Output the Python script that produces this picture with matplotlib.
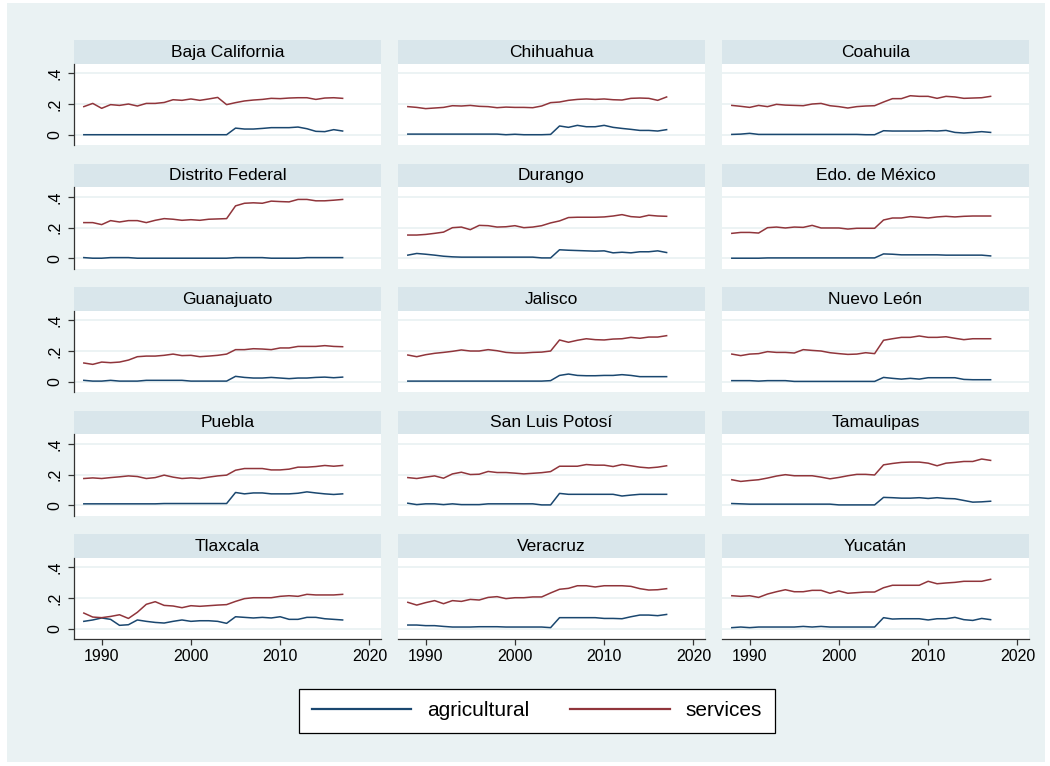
import numpy as np
import matplotlib
matplotlib.use("Agg")
import matplotlib.pyplot as plt
from matplotlib.patches import Rectangle

plt.rcParams["font.family"] = ["Liberation Sans", "DejaVu Sans"]

years = np.arange(1988, 2018)

states = ["Baja California", "Chihuahua", "Coahuila",
          "Distrito Federal", "Durango", "Edo. de México",
          "Guanajuato", "Jalisco", "Nuevo León",
          "Puebla", "San Luis Potosí", "Tamaulipas",
          "Tlaxcala", "Veracruz", "Yucatán"]

# employment shares by sector, 1988-2017
services = {
    "Baja California": [0.183, 0.204, 0.172, 0.196, 0.191, 0.200, 0.187, 0.204, 0.204, 0.210, 0.228, 0.224, 0.233, 0.224, 0.233,
                        0.243, 0.196, 0.209, 0.220, 0.226, 0.230, 0.237, 0.235, 0.239, 0.241, 0.241, 0.230, 0.239, 0.241, 0.237],
    "Chihuahua": [0.183, 0.178, 0.170, 0.174, 0.178, 0.189, 0.187, 0.191, 0.185, 0.183, 0.176, 0.180, 0.178, 0.178, 0.176,
                  0.187, 0.209, 0.213, 0.224, 0.230, 0.233, 0.230, 0.233, 0.228, 0.226, 0.237, 0.239, 0.237, 0.224, 0.246],
    "Coahuila": [0.191, 0.185, 0.178, 0.191, 0.183, 0.198, 0.193, 0.191, 0.189, 0.200, 0.204, 0.189, 0.183, 0.174, 0.183,
                 0.187, 0.189, 0.213, 0.235, 0.235, 0.254, 0.250, 0.250, 0.237, 0.250, 0.246, 0.237, 0.239, 0.241, 0.250],
    "Distrito Federal": [0.232, 0.232, 0.219, 0.245, 0.236, 0.245, 0.245, 0.232, 0.247, 0.258, 0.254, 0.247, 0.251, 0.247, 0.254,
                         0.256, 0.258, 0.341, 0.358, 0.361, 0.358, 0.372, 0.369, 0.367, 0.383, 0.383, 0.374, 0.374, 0.378, 0.383],
    "Durango": [0.151, 0.151, 0.155, 0.162, 0.170, 0.199, 0.203, 0.186, 0.214, 0.212, 0.203, 0.205, 0.212, 0.199, 0.203,
                0.212, 0.230, 0.243, 0.265, 0.267, 0.267, 0.267, 0.269, 0.275, 0.284, 0.271, 0.267, 0.280, 0.275, 0.273],
    "Edo. de México": [0.162, 0.168, 0.168, 0.164, 0.199, 0.203, 0.197, 0.203, 0.201, 0.214, 0.197, 0.197, 0.197, 0.190, 0.195,
                       0.195, 0.195, 0.249, 0.262, 0.262, 0.271, 0.267, 0.262, 0.269, 0.273, 0.269, 0.273, 0.275, 0.275, 0.275],
    "Guanajuato": [0.122, 0.113, 0.128, 0.124, 0.128, 0.141, 0.163, 0.167, 0.167, 0.172, 0.180, 0.170, 0.172, 0.163, 0.167,
                   0.172, 0.180, 0.209, 0.209, 0.215, 0.213, 0.209, 0.220, 0.220, 0.230, 0.230, 0.230, 0.235, 0.230, 0.228],
    "Jalisco": [0.174, 0.163, 0.176, 0.185, 0.191, 0.198, 0.207, 0.200, 0.200, 0.209, 0.202, 0.191, 0.187, 0.187, 0.191,
                0.193, 0.200, 0.272, 0.257, 0.270, 0.280, 0.274, 0.272, 0.278, 0.280, 0.289, 0.283, 0.291, 0.291, 0.300],
    "Nuevo León": [0.180, 0.170, 0.180, 0.183, 0.196, 0.191, 0.191, 0.187, 0.209, 0.204, 0.200, 0.189, 0.183, 0.178, 0.180,
                   0.189, 0.183, 0.270, 0.280, 0.289, 0.289, 0.298, 0.289, 0.289, 0.293, 0.283, 0.274, 0.280, 0.280, 0.280],
    "Puebla": [0.174, 0.178, 0.174, 0.180, 0.185, 0.191, 0.187, 0.174, 0.180, 0.196, 0.183, 0.174, 0.178, 0.174, 0.183,
               0.191, 0.196, 0.228, 0.239, 0.239, 0.239, 0.230, 0.230, 0.235, 0.248, 0.248, 0.252, 0.259, 0.254, 0.259],
    "San Luis Potosí": [0.180, 0.174, 0.183, 0.191, 0.176, 0.204, 0.215, 0.200, 0.202, 0.220, 0.213, 0.213, 0.209, 0.204, 0.208,
                        0.212, 0.219, 0.254, 0.254, 0.254, 0.265, 0.261, 0.261, 0.252, 0.265, 0.257, 0.248, 0.243, 0.248, 0.257],
    "Tamaulipas": [0.166, 0.155, 0.161, 0.166, 0.177, 0.190, 0.199, 0.192, 0.192, 0.192, 0.183, 0.172, 0.181, 0.192, 0.201,
                   0.201, 0.197, 0.263, 0.272, 0.279, 0.281, 0.281, 0.274, 0.257, 0.274, 0.279, 0.285, 0.285, 0.301, 0.292],
    "Tlaxcala": [0.102, 0.076, 0.072, 0.080, 0.091, 0.067, 0.107, 0.159, 0.176, 0.152, 0.148, 0.137, 0.150, 0.146, 0.150,
                 0.154, 0.157, 0.178, 0.196, 0.202, 0.202, 0.202, 0.211, 0.215, 0.211, 0.224, 0.220, 0.220, 0.220, 0.224],
    "Veracruz": [0.172, 0.154, 0.170, 0.183, 0.163, 0.183, 0.178, 0.191, 0.187, 0.204, 0.209, 0.196, 0.202, 0.202, 0.207,
                 0.207, 0.233, 0.257, 0.263, 0.280, 0.280, 0.272, 0.280, 0.280, 0.280, 0.276, 0.261, 0.252, 0.254, 0.261],
    "Yucatán": [0.215, 0.211, 0.215, 0.204, 0.226, 0.241, 0.254, 0.241, 0.241, 0.250, 0.250, 0.231, 0.246, 0.231, 0.235,
                0.239, 0.239, 0.267, 0.283, 0.283, 0.283, 0.283, 0.309, 0.293, 0.298, 0.302, 0.309, 0.309, 0.309, 0.322],
}

agricultural = {
    "Baja California": [0.0, 0.0, 0.0, 0.0, 0.0, 0.0, 0.0, 0.0, 0.0, 0.0, 0.0, 0.0, 0.0, 0.0, 0.0,
                        0.0, 0.0, 0.043, 0.037, 0.037, 0.041, 0.046, 0.046, 0.046, 0.050, 0.039, 0.022, 0.020, 0.033, 0.024],
    "Chihuahua": [0.004, 0.004, 0.004, 0.004, 0.004, 0.004, 0.004, 0.004, 0.004, 0.004, 0.004, 0.0, 0.003, 0.0, 0.0,
                  0.0, 0.002, 0.057, 0.048, 0.061, 0.052, 0.052, 0.061, 0.048, 0.041, 0.035, 0.028, 0.028, 0.024, 0.033],
    "Coahuila": [0.002, 0.004, 0.009, 0.002, 0.002, 0.002, 0.002, 0.002, 0.002, 0.002, 0.002, 0.002, 0.002, 0.002, 0.002,
                 0.0, 0.0, 0.026, 0.024, 0.024, 0.024, 0.024, 0.026, 0.024, 0.028, 0.015, 0.011, 0.015, 0.020, 0.015],
    "Distrito Federal": [0.004, 0.0, 0.0, 0.004, 0.004, 0.004, 0.0, 0.0, 0.0, 0.0, 0.0, 0.0, 0.0, 0.0, 0.0,
                         0.0, 0.0, 0.004, 0.004, 0.004, 0.004, 0.0, 0.0, 0.0, 0.0, 0.004, 0.004, 0.004, 0.004, 0.004],
    "Durango": [0.020, 0.031, 0.026, 0.020, 0.013, 0.009, 0.007, 0.007, 0.007, 0.007, 0.007, 0.007, 0.007, 0.007, 0.007,
                0.002, 0.002, 0.055, 0.052, 0.050, 0.048, 0.046, 0.048, 0.035, 0.039, 0.035, 0.042, 0.042, 0.048, 0.037],
    "Edo. de México": [0.0, 0.0, 0.0, 0.0, 0.002, 0.002, 0.002, 0.002, 0.002, 0.002, 0.002, 0.002, 0.002, 0.002, 0.002,
                       0.002, 0.002, 0.028, 0.026, 0.022, 0.022, 0.022, 0.022, 0.022, 0.020, 0.020, 0.020, 0.020, 0.020, 0.015],
    "Guanajuato": [0.009, 0.004, 0.004, 0.009, 0.004, 0.004, 0.004, 0.009, 0.009, 0.009, 0.009, 0.009, 0.004, 0.004, 0.004,
                   0.004, 0.004, 0.035, 0.028, 0.024, 0.024, 0.028, 0.024, 0.020, 0.024, 0.024, 0.028, 0.030, 0.026, 0.030],
    "Jalisco": [0.004, 0.004, 0.004, 0.004, 0.004, 0.004, 0.004, 0.004, 0.004, 0.004, 0.004, 0.004, 0.004, 0.004, 0.004,
                0.004, 0.007, 0.041, 0.050, 0.041, 0.039, 0.039, 0.041, 0.041, 0.046, 0.041, 0.033, 0.033, 0.033, 0.033],
    "Nuevo León": [0.007, 0.007, 0.007, 0.004, 0.007, 0.007, 0.007, 0.002, 0.002, 0.002, 0.002, 0.002, 0.002, 0.002, 0.002,
                   0.002, 0.002, 0.028, 0.022, 0.017, 0.022, 0.017, 0.026, 0.026, 0.026, 0.026, 0.015, 0.013, 0.013, 0.013],
    "Puebla": [0.009, 0.009, 0.009, 0.009, 0.009, 0.009, 0.009, 0.009, 0.009, 0.011, 0.011, 0.011, 0.011, 0.011, 0.011,
               0.011, 0.011, 0.083, 0.074, 0.080, 0.080, 0.074, 0.074, 0.074, 0.078, 0.087, 0.080, 0.074, 0.070, 0.074],
    "San Luis Potosí": [0.013, 0.004, 0.009, 0.009, 0.004, 0.009, 0.004, 0.004, 0.004, 0.009, 0.009, 0.009, 0.009, 0.009, 0.009,
                        0.002, 0.002, 0.077, 0.071, 0.071, 0.071, 0.071, 0.071, 0.071, 0.060, 0.066, 0.071, 0.071, 0.071, 0.071],
    "Tamaulipas": [0.011, 0.009, 0.007, 0.007, 0.007, 0.007, 0.007, 0.007, 0.007, 0.007, 0.007, 0.007, 0.002, 0.002, 0.002,
                   0.002, 0.002, 0.051, 0.049, 0.046, 0.046, 0.049, 0.044, 0.049, 0.044, 0.042, 0.031, 0.020, 0.022, 0.026],
    "Tlaxcala": [0.048, 0.057, 0.070, 0.061, 0.022, 0.026, 0.057, 0.048, 0.041, 0.037, 0.048, 0.057, 0.048, 0.052, 0.052,
                 0.048, 0.035, 0.078, 0.074, 0.070, 0.074, 0.070, 0.078, 0.061, 0.061, 0.074, 0.074, 0.065, 0.061, 0.057],
    "Veracruz": [0.024, 0.024, 0.020, 0.020, 0.015, 0.011, 0.011, 0.011, 0.013, 0.013, 0.013, 0.011, 0.011, 0.011, 0.011,
                 0.011, 0.007, 0.072, 0.072, 0.072, 0.072, 0.072, 0.067, 0.067, 0.065, 0.078, 0.089, 0.089, 0.085, 0.093],
    "Yucatán": [0.007, 0.011, 0.007, 0.011, 0.011, 0.011, 0.011, 0.011, 0.015, 0.011, 0.015, 0.011, 0.011, 0.011, 0.011,
                0.011, 0.011, 0.072, 0.063, 0.065, 0.065, 0.065, 0.057, 0.065, 0.065, 0.074, 0.059, 0.054, 0.067, 0.059],
}

xticks = [1990, 2000, 2010, 2020]
yticks = [0, 0.2, 0.4]
yticklabels = ["0", ".2", ".4"]

BG = "#EAF2F3"
STRIP = "#D9E6EB"
NAVY = "#1A476F"
MAROON = "#90353B"

W, H = 1050, 766
fig = plt.figure(figsize=(W / 100, H / 100), dpi=100, facecolor="white")
fig.patches.append(Rectangle((7 / W, 4 / H), 1 - 12 / W, 1 - 7 / H, transform=fig.transFigure,
                             facecolor=BG, edgecolor="none", zorder=-10))


def px_axes(x, y, w, h):
    # pixel box (top-left origin) -> figure axes
    return fig.add_axes([x / W, 1 - (y + h) / H, w / W, h / H])


col_x = [74, 398, 722]
panel_w = 307
strip_h = 23.5
plot_h = 81.5
row_pitch = 123.5

for i, state in enumerate(states):
    r, c = divmod(i, 3)
    top = 40 + r * row_pitch
    x0 = col_x[c]

    sax = px_axes(x0, top, panel_w, strip_h)
    sax.set_facecolor(STRIP)
    sax.set_xticks([])
    sax.set_yticks([])
    for sp in sax.spines.values():
        sp.set_visible(False)
    sax.text(0.5, 0.48, state, ha="center", va="center", fontsize=12.5, transform=sax.transAxes)

    ax = px_axes(x0, top + strip_h, panel_w, plot_h)
    ax.set_facecolor("white")
    ax.plot(years, agricultural[state], color=NAVY, lw=1.1)
    ax.plot(years, services[state], color=MAROON, lw=1.1)
    ax.set_xlim(1986.9, 2021.3)
    ax.set_ylim(-0.067, 0.464)
    for yv in yticks:
        ax.axhline(yv, color=BG, lw=1.3, zorder=0)
    for sp in ax.spines.values():
        sp.set_visible(False)

    if c == 0:
        ax.spines["left"].set_visible(True)
        ax.spines["left"].set_color("#333333")
        ax.spines["left"].set_linewidth(0.9)
        ax.set_yticks(yticks)
        ax.set_yticklabels(yticklabels, rotation=90, va="center", fontsize=11.5)
        ax.tick_params(axis="y", length=4.2, width=0.9, color="#333333", pad=4)
    else:
        ax.set_yticks([])

    if r == 4:
        ax.spines["bottom"].set_visible(True)
        ax.spines["bottom"].set_color("#333333")
        ax.spines["bottom"].set_linewidth(0.9)
        ax.set_xticks(xticks)
        ax.tick_params(axis="x", length=4.2, width=0.9, color="#333333", labelsize=11.5, pad=3)
    else:
        ax.set_xticks([])

handles = [plt.Line2D([], [], color=NAVY, lw=1.6), plt.Line2D([], [], color=MAROON, lw=1.6)]
leg = fig.legend(handles, ["agricultural", "services"], loc="center",
                 bbox_to_anchor=(537 / W, 1 - 711 / H), ncol=2, fontsize=15,
                 frameon=True, fancybox=False, edgecolor="black", framealpha=1,
                 handlelength=4.76, handletextpad=0.77, columnspacing=1.97, borderpad=0.6)
leg.get_frame().set_linewidth(0.9)

fig.savefig("out.png", dpi=100, facecolor="white")
